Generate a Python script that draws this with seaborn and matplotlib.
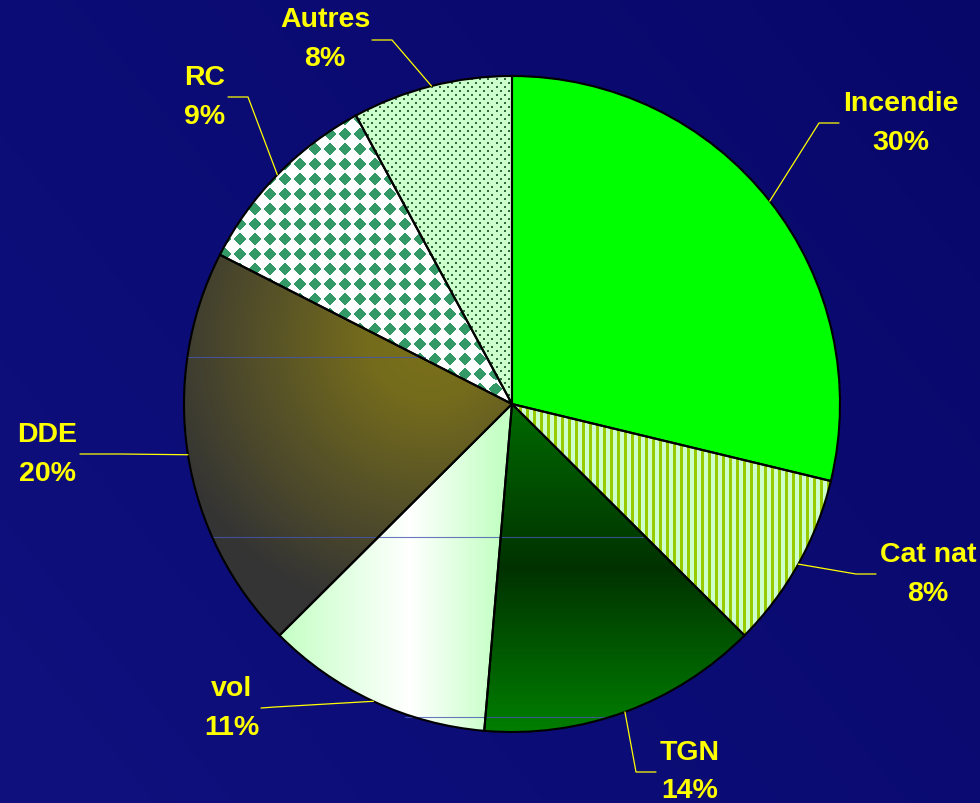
import numpy as np
import matplotlib
matplotlib.use("Agg")
import matplotlib.pyplot as plt
import matplotlib.colors as mcolors
import seaborn as sns

# Slice shares and printed labels
categories = ["Incendie", "Cat nat", "TGN", "vol", "DDE", "RC", "Autres"]
shares = [28.8, 8.7, 13.9, 11.2, 20.0, 9.6, 7.9]
pct_labels = ["30%", "8%", "14%", "11%", "20%", "9%", "8%"]

# Label layout in pixels: text block centre, elbow of leader, end of leader
label_xy = [(901, 124), (928, 575), (690, 772), (232, 709), (47, 455), (205, 98), (325, 40)]
elbow_xy = [(819, 124), (856, 575), (636, 773), (275, 708), (120, 455), (248, 98), (392, 41)]
end_xy = [(839, 124), (876, 575), (656, 773), (261, 709), (80, 455), (228, 98), (372, 41)]

sns.set_style("white")
plt.rcParams["font.family"] = ["Liberation Sans", "DejaVu Sans"]

W, H = 980, 804
CX, CY, R = 512, 405, 328


def to_data(x, y):
    return (x - CX) / R, (CY - y) / R


def rgb(h):
    return np.array(mcolors.to_rgb(h))


def ramp(vals, stops, cols):
    cols = np.array([rgb(c) for c in cols])
    out = np.zeros(vals.shape + (3,))
    for k in range(3):
        out[..., k] = np.interp(vals, stops, cols[:, k])
    return out


def two_tone(mask, c_on, c_off):
    a, b = rgb(c_on), rgb(c_off)
    return np.where(mask[..., None], a, b)


fig = plt.figure(figsize=(W / 100, H / 100), dpi=100)
ax = fig.add_axes([0, 0, 1, 1])
extent = (-CX / R, (W - CX) / R, (CY - H) / R, CY / R)

gx, gy = np.meshgrid(np.arange(W) + 0.5, np.arange(H) + 0.5)

# background
bg_t = 0.6 * gx / W + 0.4 * (1 - gy / H)
ax.imshow(ramp(bg_t, [0, 1], ["#10107f", "#07076a"]), extent=extent,
          origin="upper", zorder=0, interpolation="bilinear")

base_colors = ["#00ff00", "#ccffcc", "#006000", "#e0ffe0", "#555028", "#ffffff", "#ccffcc"]
wedges, _ = ax.pie(shares, colors=base_colors, startangle=90, counterclock=False,
                   radius=1, center=(0, 0), wedgeprops=dict(linewidth=0))
for w in wedges:
    w.set_zorder(1)

# textures for the slices
ddx = gx - 15 * np.round(gx / 15)
ddy = gy - 15 * np.round(gy / 15)
diamonds = (np.abs(ddx) + np.abs(ddy)) < 6.8

u2 = (gx + gy) / 8.0
v2 = (gx - gy) / 8.0
du2 = u2 - np.round(u2)
dv2 = v2 - np.round(v2)
px_ = 4 * (du2 + dv2)
py_ = 4 * (du2 - dv2)
dots = (np.abs(px_) < 1.0) & (np.abs(py_) < 1.0)

textures = {
    "Cat nat": two_tone((gx % 7) < 3.5, "#99cc00", "#ccffcc"),
    "TGN": ramp(gy, [405, 570, 735], ["#006a00", "#003200", "#008000"]),
    "vol": ramp(gx, [280, 410, 500], ["#c4ffc4", "#ffffff", "#c4ffc4"]),
    "DDE": ramp(np.hypot(gx - 430, gy - 340), [0, 60, 280], ["#7a7018", "#756c1c", "#343434"]),
    "RC": two_tone(diamonds, "#339966", "#ffffff"),
    "Autres": two_tone(dots, "#2f6b3f", "#ccffcc"),
}
for name, w in zip(categories, wedges):
    if name in textures:
        im = ax.imshow(textures[name], extent=extent, origin="upper",
                       zorder=2, interpolation="nearest")
        im.set_clip_path(w)

# faint artefact lines across the pie
for y0, x0, x1 in [(358, 187, 425), (538, 212, 643), (718, 405, 610)]:
    (a0, b0), (a1, _) = to_data(x0, y0), to_data(x1, y0)
    ax.plot([a0, a1], [b0, b0], color="#4656b0", lw=0.8, alpha=0.8, zorder=3)

# black outlines
outline, _ = ax.pie(shares, colors=["none"] * len(shares), startangle=90,
                    counterclock=False, radius=1, center=(0, 0),
                    wedgeprops=dict(edgecolor="black", linewidth=1.5))
for w in outline:
    w.set_zorder(4)

# labels with leader lines
for w, name, pct, lxy, exy, fxy in zip(wedges, categories, pct_labels, label_xy, elbow_xy, end_xy):
    ang = np.deg2rad((w.theta1 + w.theta2) / 2)
    sx, sy = np.cos(ang), np.sin(ang)
    ex, ey = to_data(*exy)
    fx, fy = to_data(*fxy)
    ax.plot([sx, ex, fx], [sy, ey, fy], color="#ffff00", lw=0.9, zorder=5)
    tx, ty = to_data(lxy[0], lxy[1] - 19.5)
    ax.text(tx, ty, name, color="#ffff00", fontsize=20.5, fontweight="bold",
            ha="center", va="center", zorder=6)
    tx, ty = to_data(lxy[0], lxy[1] + 19.5)
    ax.text(tx, ty, pct, color="#ffff00", fontsize=20.5, fontweight="bold",
            ha="center", va="center", zorder=6)

ax.set_xlim(extent[0], extent[1])
ax.set_ylim(extent[2], extent[3])
ax.set_aspect("auto")
ax.axis("off")

fig.savefig("out.png", dpi=100, facecolor="#0d0d78")
